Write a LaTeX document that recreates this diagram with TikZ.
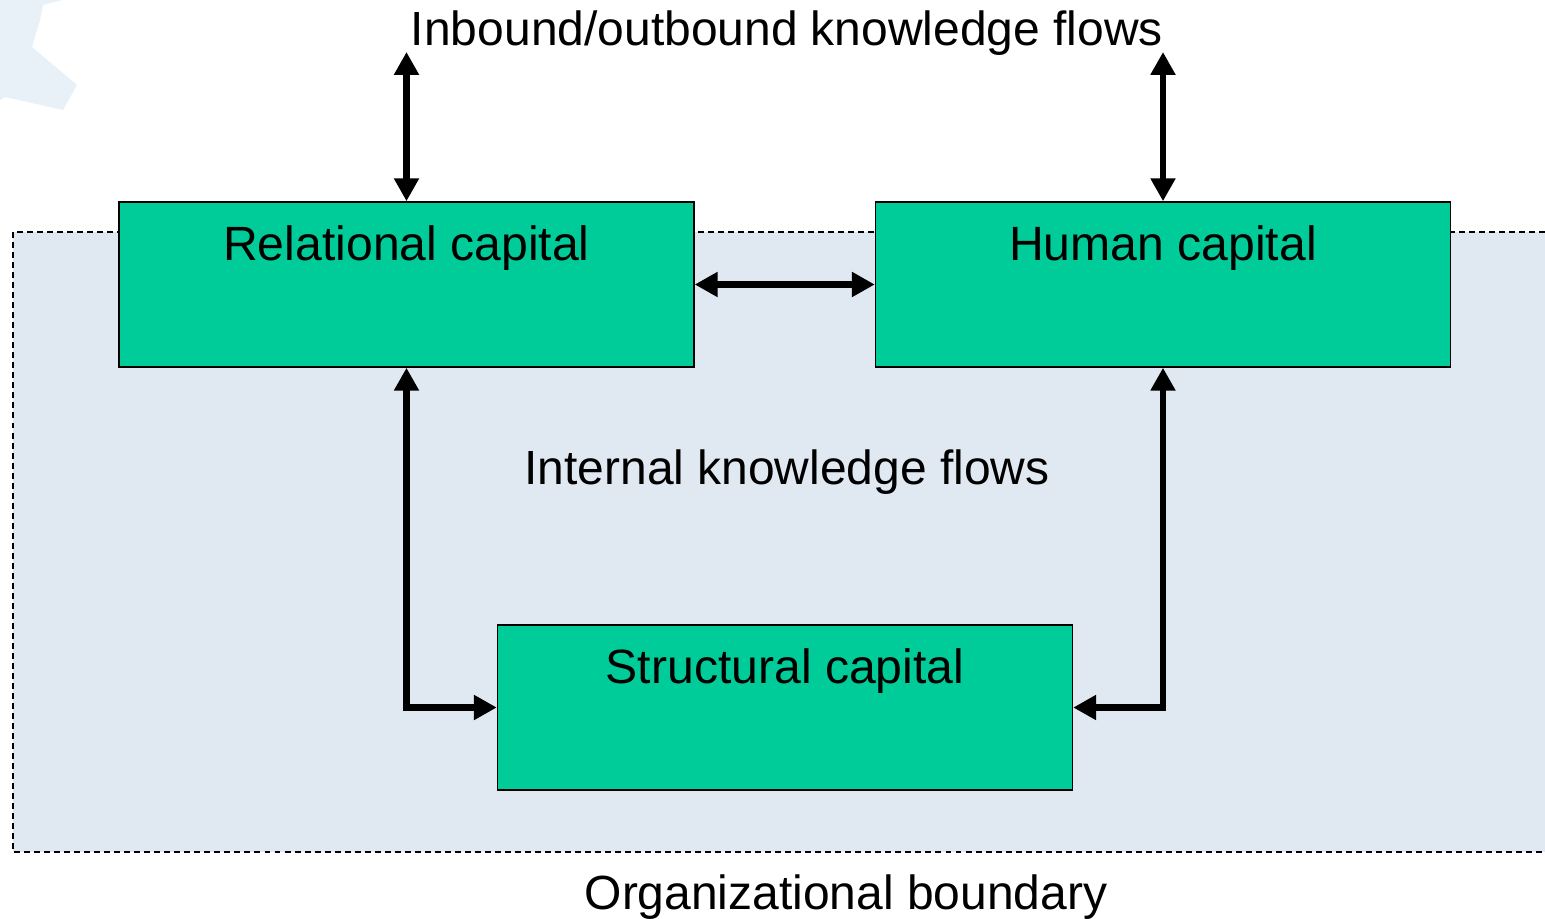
\documentclass[tikz,border=0pt]{standalone}
\usepackage{fontspec}
\setmainfont{Liberation Sans}
\usetikzlibrary{arrows.meta, positioning}
\definecolor{capgreen}{HTML}{00CC99}
\definecolor{orgblue}{HTML}{E0E8F2}
\definecolor{gearblue}{HTML}{E8F1F8}
\begin{document}
\begin{tikzpicture}[x=0.02cm, y=-0.02cm,
	capbox/.style={draw=black, line width=0.9pt, fill=capgreen, minimum width=11.5cm, minimum height=3.3cm, inner sep=0},
	captext/.style={font=\fontsize{27.4}{33}\selectfont, inner sep=0, anchor=north},
	flowtext/.style={font=\fontsize{27.3}{33}\selectfont, inner sep=0},
	flow/.style={line width=3.9pt, {Triangle[length=13pt,width=13.5pt]}-{Triangle[length=13pt,width=13.5pt]}}]
	\useasboundingbox (0,0) rectangle (1545,919);
	% background
	\fill[gearblue] (0,0) -- (63,0) -- (43,5) -- (40,20) -- (32,47) -- (77,85) -- (63,110) -- (5,97) -- (0,100) -- cycle;
	\fill[orgblue] (13,232) rectangle (1545,852);
	\draw[line width=0.8pt, dash pattern=on 3.4pt off 2.3pt] (1545,232) -- (13,232) -- (13,852) -- (1545,852);
	
	% boxes
	\node[capbox] (rel) at (406.5,284.5) {};
	\node[capbox] (hum) at (1163,284.5) {};
	\node[capbox] (str) at (785,707.5) {};
	\node[captext] (relT) at (406.5,225) {Relational capital};
	\node[captext] (humT) at (1163,225) {Human capital};
	\node[captext] (strT) at (785,648) {Structural capital};
	
	% labels
	\node[flowtext] (inout) at (787,33) {Inbound/outbound knowledge flows};
	\node[flowtext] (internal) at (787,472) {Internal knowledge flows};
	\node[flowtext] (org) at (846,897) {Organizational boundary};
	
	% flows
	\coordinate (relOut) at (406.5,52);
	\coordinate (humOut) at (1163,52);
	\draw[flow] (relOut) -- (rel.north);
	\draw[flow] (humOut) -- (hum.north);
	\draw[flow] (rel.east) -- (hum.west);
	\draw[flow] (rel.south) |- (str.west);
	\draw[flow] (hum.south) |- (str.east);
\end{tikzpicture}
\end{document}
